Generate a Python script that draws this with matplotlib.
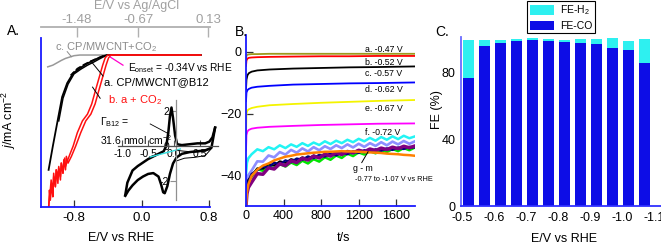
import numpy as np
import matplotlib
matplotlib.use('Agg')
import matplotlib.pyplot as plt
from matplotlib.patches import Patch

plt.rcParams['font.family'] = ['Liberation Sans', 'DejaVu Sans']
plt.rcParams['mathtext.fontset'] = 'custom'
plt.rcParams['mathtext.rm'] = 'Liberation Sans'
plt.rcParams['mathtext.it'] = 'Liberation Sans:italic'

# ---------------- panel A data (LSV, E/V vs RHE, j/mA cm-2) ----------------
gray_E = [-1.11, -1.05, -1.0, -0.95, -0.90, -0.85, -0.80, -0.73, 0.70]
gray_j = [-3.5, -3.0, -2.3, -1.6, -1.0, -0.6, -0.2, 0.0, 0.0]

black_E = [0.70, -0.41, -0.46, -0.52, -0.57, -0.65, -0.73, -0.81, -0.88, -0.94, -0.99, -1.05, -1.10]
black_j = [0.0, 0.0, -0.4, -1.0, -1.6, -2.6, -3.9, -5.4, -8.3, -12.4, -19.0, -27.0, -34.0]
black2_E = [0.70, -0.40, -0.45, -0.51, -0.56, -0.64, -0.72, -0.80, -0.87, -0.93, -0.98]
black2_j = [0.0, 0.0, -0.5, -1.3, -2.0, -3.0, -4.2, -5.6, -8.6, -12.8, -19.5]
dash_E = [-0.45, -0.52, -0.60, -0.68, -0.76, -0.84]
dash_j = [-0.2, -0.9, -1.8, -2.8, -4.0, -6.0]

red1_E = [0.70, -0.36, -0.39, -0.42, -0.46, -0.50, -0.55, -0.60, -0.66, -0.72, -0.78, -0.83, -0.87,
          -0.89, -0.90, -0.92, -0.93, -0.95, -0.96, -0.98, -0.99, -1.01, -1.02, -1.04, -1.05, -1.07, -1.08, -1.10]
red1_j = [0.0, 0.0, -0.8, -3.0, -6.5, -10.0, -14.5, -17.5, -19.5, -23.0, -27.0, -30.0, -32.0,
          -30.0, -34.0, -31.0, -35.0, -32.0, -37.0, -33.0, -36.0, -34.0, -39.0, -35.0, -41.0, -37.0, -40.0, -45.0]
red2_E = [0.70, -0.40, -0.43, -0.46, -0.50, -0.54, -0.59, -0.64, -0.70, -0.76, -0.81, -0.85, -0.88,
          -0.90, -0.91, -0.93, -0.95, -0.96, -0.98, -0.99, -1.01, -1.02, -1.04, -1.05, -1.06, -1.08, -1.09, -1.10]
red2_j = [0.0, 0.0, -0.8, -3.0, -6.5, -10.0, -14.5, -17.5, -19.5, -23.0, -27.0, -29.5, -31.5,
          -33.0, -30.5, -35.0, -32.0, -36.0, -33.5, -38.0, -34.0, -39.0, -36.0, -42.0, -38.0, -43.0, -40.0, -46.0]

# inset CV
cv_up_E = [-0.94, -0.90, -0.80, -0.70, -0.60, -0.50, -0.40, -0.30, -0.20, -0.15, -0.11, -0.08, -0.05,
           -0.02, 0.02, 0.06, 0.15, 0.30, 0.45, 0.60, 0.68, 0.74, 0.79]
cv_up_j = [-2.8, -2.1, -1.4, -1.15, -0.95, -0.75, -0.6, -0.45, -0.3, 0.0, 0.8, 1.7, 2.2,
           1.6, 0.6, 0.1, 0.05, 0.1, 0.15, 0.15, 0.25, 0.5, 1.05]
cv_dn_E = [0.79, 0.72, 0.60, 0.45, 0.30, 0.15, 0.05, -0.02, -0.08, -0.13, -0.18, -0.21, -0.25,
           -0.30, -0.40, -0.50, -0.60, -0.70, -0.80, -0.88, -0.94]
cv_dn_j = [1.05, -0.1, -0.25, -0.3, -0.35, -0.45, -0.65, -1.0, -1.6, -2.3, -2.7, -2.65, -2.2,
           -1.75, -1.55, -1.6, -1.75, -1.95, -2.25, -2.55, -2.85]
cv_thin_E = [0.05, 0.20, 0.40, 0.60, 0.72, 0.60, 0.40, 0.20, 0.05]
cv_thin_j = [-0.25, -0.3, -0.35, -0.3, -0.15, -0.55, -0.65, -0.7, -0.85]
base_E = [-0.46, 0.12]
base_j = [-0.63, -0.17]

top_tick_pos = [-0.764, -0.042, 0.788]
top_tick_lab = ['-1.48', '-0.67', '0.13']

# ---------------- panel B data (chronoamperometry) ----------------
t_s = [0, 5, 15, 30, 60, 120, 250, 500, 800, 1100, 1400, 1800]
ja = [-2.5, -1.2, -0.9, -0.8, -0.7, -0.7, -0.6, -0.6, -0.6, -0.6, -0.6, -0.6]
jb = [-4.5, -2.8, -2.2, -1.9, -1.8, -1.7, -1.6, -1.5, -1.4, -1.4, -1.3, -1.3]
jc = [-12.0, -9.0, -7.6, -6.9, -6.4, -6.0, -5.7, -5.4, -5.2, -5.0, -4.9, -4.7]
jd = [-16.0, -13.2, -12.4, -12.0, -11.6, -11.3, -11.0, -10.6, -10.4, -10.2, -10.1, -9.9]
je = [-27.0, -20.0, -19.0, -18.6, -18.2, -17.8, -17.3, -16.9, -16.5, -16.2, -15.9, -15.6]
jf = [-32.0, -27.0, -25.8, -25.3, -24.9, -24.6, -24.3, -24.0, -23.7, -23.5, -23.3, -23.2]

t_n = [0, 10, 25, 60, 120, 180, 240, 300, 360, 420, 480, 540, 600, 660, 720, 780, 840, 900,
       960, 1020, 1080, 1140, 1200, 1260, 1320, 1380, 1440, 1500, 1560, 1620, 1680, 1740, 1800]
jg = [-40, -36, -34.5, -33.2, -31.6, -32.2, -30.9, -31.6, -30.3, -31.2, -30.0, -30.8, -29.6, -30.5, -29.4, -30.2,
      -29.0, -29.9, -28.8, -29.6, -28.5, -29.3, -28.2, -29.0, -27.9, -28.8, -27.6, -28.5, -27.4, -28.3, -27.2, -28.0, -27.4]
jh = [-46, -42, -40, -38.5, -35.5, -35.6, -33.6, -34.2, -32.5, -33.3, -31.8, -32.7, -31.3, -32.3, -30.9, -31.9,
      -30.6, -31.5, -30.3, -31.2, -30.0, -31.0, -29.8, -30.8, -29.6, -30.5, -29.3, -30.3, -29.1, -30.0, -28.9, -29.8, -29.0]
ji = [-48, -44, -42, -40.5, -38.0, -38.6, -37.0, -37.8, -36.4, -37.2, -35.9, -36.7, -35.3, -36.2, -34.8, -35.6,
      -34.2, -35.0, -33.6, -34.4, -33.0, -33.8, -32.6, -33.3, -32.2, -32.9, -31.8, -32.5, -31.5, -32.2, -31.2, -31.9, -31.0]
jj = [-46, -43.5, -41.5, -40.2, -37.8, -37.9, -36.4, -36.9, -35.5, -36.0, -34.8, -35.3, -34.2, -34.7, -33.6, -34.1,
      -33.1, -33.6, -32.6, -33.2, -32.2, -32.7, -31.8, -32.4, -31.5, -32.1, -31.3, -31.8, -31.0, -31.5, -30.8, -31.3, -30.7]
jk = [-47, -44, -42.2, -39.6, -38.4, -37.2, -37.5, -35.9, -36.6, -35.2, -35.8, -34.6, -35.0, -33.9, -34.5, -33.4,
      -34.0, -32.9, -33.6, -32.6, -33.2, -32.2, -32.8, -31.9, -32.4, -31.6, -32.1, -31.3, -31.8, -31.0, -31.5, -30.8, -31.0]
jl = [-50, -46, -44, -42.3, -39.5, -39.7, -37.6, -38.0, -36.3, -36.9, -35.3, -35.9, -34.5, -35.1, -33.8, -34.4,
      -33.2, -33.8, -32.7, -33.3, -32.3, -32.8, -31.9, -32.4, -31.5, -32.0, -31.2, -31.7, -30.9, -31.4, -30.6, -31.1, -30.5]
jm = [-50, -45.5, -43, -40.2, -38.2, -36.9, -36.2, -35.2, -34.6, -34.0, -33.7, -33.3, -33.1, -32.9, -32.7, -32.6,
      -32.4, -32.4, -32.3, -32.2, -32.3, -32.3, -32.4, -32.5, -32.6, -32.7, -32.8, -33.0, -33.1, -33.2, -33.4, -33.5, -33.7]

# ---------------- panel C data (Faradaic efficiency) ----------------
E_bar = [-0.52, -0.57, -0.62, -0.67, -0.72, -0.77, -0.82, -0.87, -0.92, -0.97, -1.02, -1.07]
fe_co = [76.4, 95.5, 97.3, 98.5, 99.5, 98.5, 97.9, 97.5, 96.9, 94.5, 93.3, 85.6]
fe_h2 = [23.1, 4.0, 2.2, 1.5, 1.2, 1.5, 1.6, 2.5, 3.1, 5.8, 5.6, 14.3]
c_ticks = [-0.5, -0.6, -0.7, -0.8, -0.9, -1.0, -1.1]

W, H = 661, 247
fig = plt.figure(figsize=(W / 100, H / 100), dpi=100)


def box(l, t, r, b):
    return [l / W, 1 - b / H, (r - l) / W, (b - t) / H]


BLUE = '#1a1aff'
TICKC = '#333333'

# ================= A =================
ax = fig.add_axes(box(41, 27, 210, 207))
ax.set_xlim(-1.19, 0.81)
ax.set_ylim(-45, 8.3)
for s in ['top', 'right']:
    ax.spines[s].set_visible(False)
for s in ['left', 'bottom']:
    ax.spines[s].set_color(BLUE)
    ax.spines[s].set_linewidth(1.3)
ax.spines['left'].set_bounds(-45, 5)
ax.set_xticks([-0.8, 0.0, 0.8])
ax.set_xticklabels(['-0.8', '0.0', '0.8'])
ax.set_yticks([-40, -20, 0])
ax.set_yticklabels(['-40', '-20', '0'])
ax.tick_params(direction='in', length=5, width=0.9, color=TICKC, labelsize=9.5, pad=3.5)
ax.patch.set_alpha(0)

ax.plot(gray_E, gray_j, color='#999999', lw=1.1)
ax.plot(black_E, black_j, color='black', lw=1.3)
ax.plot(black2_E, black2_j, color='black', lw=1.1)
ax.plot(dash_E, dash_j, color='black', lw=1.1, ls=(0, (4, 1.5)))
ax.plot(red2_E, red2_j, color='#ff1010', lw=1.1)
ax.plot(red1_E, red1_j, color='#ff1010', lw=1.1)

ax.text(-1.02, 2.4, 'c. CP/MWCNT+CO$_2$', color='#8c8c8c', fontsize=8, va='center')
ax.plot([-0.88, -0.83], [1.0, -0.5], color='#8c8c8c', lw=0.7)
ax.text(-0.165, -3.9, 'E$_{\\rm onset}$ = -0.34V vs RHE', fontsize=7.3, va='center')
ax.plot([-0.22, -0.37], [-3.0, -0.6], color='#ff00cc', lw=0.9)
ax.text(-0.445, -8.0, 'a. CP/MWCNT@B12', fontsize=8, va='center')
ax.plot([-0.60, -0.456], [-1.8, -6.2], color='black', lw=0.7)
ax.text(-0.40, -13.3, 'b. a + CO$_2$', fontsize=8, color='#ff1010', va='center')
ax.plot([-0.58, -0.49], [-9.5, -12.8], color='black', lw=0.7)
ax.text(-0.49, -19.9, '\u0393$_{\\rm B12}$ =', fontsize=7.5, va='center')
ax.text(-0.49, -25.2, '31.6 nmol cm$^{-2}$', fontsize=7.5, va='center')

axt = ax.twiny()
axt.set_xlim(ax.get_xlim())
for s in ['left', 'right', 'bottom']:
    axt.spines[s].set_visible(False)
axt.spines['top'].set_color('#b0b0b0')
axt.spines['top'].set_linewidth(1.3)
axt.set_xticks(top_tick_pos)
axt.set_xticklabels(top_tick_lab)
axt.tick_params(axis='x', direction='in', length=7, width=1.0, color='#b0b0b0',
                labelcolor='#a0a0a0', labelsize=9.5, pad=0.5)
axt.set_yticks([])

# inset
axi = fig.add_axes(box(118, 100, 218, 200))
axi.patch.set_alpha(0)
axi.set_xlim(-1.08, 0.846)
axi.set_ylim(-3.09, 2.63)
axi.spines['top'].set_visible(False)
axi.spines['right'].set_visible(False)
axi.spines['left'].set_position(('data', 0.04))
axi.spines['bottom'].set_position(('data', 0))
axi.spines['left'].set_color('#909090')
axi.spines['bottom'].set_color('#505050')
axi.spines['left'].set_linewidth(0.9)
axi.spines['bottom'].set_linewidth(0.9)
axi.set_xticks([-1.0, -0.5, 0.0, 0.5])
axi.set_xticklabels(['-1.0', '-0.5', '0.0', '0.5'])
axi.set_yticks([-2, 0, 2])
axi.set_yticklabels(['-2', '0', '2'])
axi.tick_params(axis='x', direction='in', length=4, width=0.8, color='#505050', labelsize=7.5, pad=2.5)
axi.tick_params(axis='y', direction='out', length=4, width=0.8, color='#909090', labelsize=7.5, pad=1)
axi.plot(cv_up_E, cv_up_j, color='black', lw=1.8)
axi.plot(cv_dn_E, cv_dn_j, color='black', lw=1.8)
axi.plot(cv_thin_E, cv_thin_j, color='black', lw=0.7)
axi.plot(base_E, base_j, color='#33e0e0', lw=1.0)
axi.plot([-0.46, -0.10], [1.26, 0.69], color='black', lw=0.6, clip_on=False)

fig.text(7 / W, 1 - 31 / H, 'A.', fontsize=10, va='center')
fig.text(137 / W, 1 - 6 / H, 'E/V vs Ag/AgCl', fontsize=9, color='#a0a0a0', ha='center', va='center')
fig.text(9 / W, 1 - 120 / H, '$j$/mA cm$^{-2}$', fontsize=9, rotation=90, ha='center', va='center')
fig.text(121 / W, 1 - 238 / H, 'E/V vs RHE', fontsize=9, ha='center', va='center')

# ================= B =================
bx = fig.add_axes(box(246, 35, 415, 206))
bx.set_xlim(0, 1800)
bx.set_ylim(-50, 5.5)
for s in ['top', 'right']:
    bx.spines[s].set_visible(False)
for s in ['left', 'bottom']:
    bx.spines[s].set_color(BLUE)
    bx.spines[s].set_linewidth(1.3)
bx.set_xticks([0, 400, 800, 1200, 1600])
bx.set_yticks([-40, -20, 0])
bx.tick_params(direction='in', length=5, width=0.9, color=TICKC, labelsize=9, pad=3)

smooth = [(ja, '#9c9a1c'), (jb, '#ff0000'), (jc, 'black'), (jd, '#0000ff'), (je, '#f4f400'), (jf, '#ff00ff')]
for yv, c in smooth:
    bx.plot(t_s, yv, color=c, lw=1.3)
noisy = [(jg, '#22f4f4', 1.8), (jh, '#8e8eff', 1.9), (ji, '#00e600', 1.8), (jj, 'black', 1.5),
         (jk, '#000080', 1.7), (jl, '#800080', 2.5), (jm, '#ff8000', 1.8)]
for yv, c, w in noisy:
    bx.plot(t_n, yv, color=c, lw=w)

lab_b = [('a. -0.47 V', 0.65), ('b. -0.52 V', -3.5), ('c. -0.57 V', -7.1),
         ('d. -0.62 V', -12.1), ('e. -0.67 V', -18.3), ('f. -0.72 V', -26.2)]
for txt, yy in lab_b:
    bx.text(1270, yy, txt, fontsize=6.3, va='center')
bx.text(1140, -37.7, 'g - m', fontsize=6.3, va='center')
bx.text(1160, -41.3, '-0.77 to -1.07 V vs RHE', fontsize=5.3, va='center')
bx.plot([1233, 1300], [-35.9, -32.4], color='black', lw=0.7)

fig.text(235 / W, 1 - 32 / H, 'B.', fontsize=10, va='center')
fig.text(344 / W, 1 - 238 / H, 't/s', fontsize=9, ha='center', va='center')

# ================= C =================
cx = fig.add_axes(box(461, 37, 661, 206))
cx.set_xlim(-0.497, -1.122)
cx.set_ylim(0, 101)
for s in ['top', 'right']:
    cx.spines[s].set_visible(False)
cx.spines['left'].set_color('#6a6aff')
cx.spines['bottom'].set_color('#3030ff')
cx.spines['left'].set_linewidth(1.3)
cx.spines['bottom'].set_linewidth(1.3)
cx.bar(E_bar, fe_co, width=0.034, color='#0d0de6')
cx.bar(E_bar, fe_h2, bottom=fe_co, width=0.034, color='#2ef0f0')
cx.set_xticks(c_ticks)
cx.set_xticklabels(['%.1f' % v for v in c_ticks])
cx.set_yticks([0, 40, 80])
cx.tick_params(length=0, labelsize=9, pad=4)

handles = [Patch(facecolor='#2ef0f0'), Patch(facecolor='#0d0de6')]
leg = cx.legend(handles, ['FE-H$_2$', 'FE-CO'], loc='upper left',
                bbox_to_anchor=(527 / W, 1 - 1 / H), bbox_transform=fig.transFigure,
                fontsize=7.5, frameon=True, fancybox=False, edgecolor='black', framealpha=1,
                handlelength=2.3, handleheight=1.0, borderpad=0.25, labelspacing=0.3,
                handletextpad=0.6, borderaxespad=0)
leg.get_frame().set_linewidth(0.8)

fig.text(435 / W, 1 - 32 / H, 'C.', fontsize=10, va='center')
fig.text(437 / W, 1 - 110 / H, 'FE (%)', fontsize=9, rotation=90, ha='center', va='center')
fig.text(564 / W, 1 - 239 / H, 'E/V vs RHE', fontsize=9, ha='center', va='center')

fig.savefig('out.png', dpi=100)
